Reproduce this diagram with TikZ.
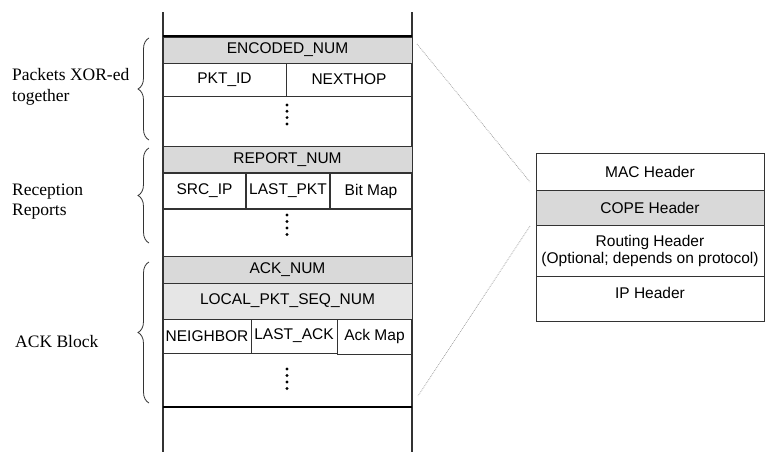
\documentclass[tikz,border=0pt]{standalone}
\usepackage{fontspec}
\setmainfont{Liberation Serif}
\newfontfamily\sansf{Liberation Sans}
\usetikzlibrary{decorations.pathreplacing}
\definecolor{hdrgray}{HTML}{D9D9D9}
\definecolor{lightgray2}{HTML}{E6E6E6}
\definecolor{linecol}{HTML}{333333}
\begin{document}
\begin{tikzpicture}[x=1pt,y=-1pt,
  cell/.style={draw=linecol, line width=1pt, inner sep=0pt, font=\sansf\fontsize{15.5}{18}\selectfont},
  hdr/.style={cell, fill=hdrgray},
  lbl/.style={inner sep=0pt, anchor=west, align=left, font=\fontsize{17.5}{20.5}\selectfont},
  bracestyle/.style={decorate, decoration={brace, amplitude=11pt}, line width=0.8pt, draw=linecol},
  zoomline/.style={draw=gray!70, line width=0.8pt, densely dotted}
]
\useasboundingbox (0,0) rectangle (779,458);
% vertical lines of the column
\coordinate (lt) at (163,12);
\coordinate (lb) at (163,452);
\coordinate (rt) at (412,12);
\coordinate (rb) at (412,452);
\draw[linecol, line width=1.1pt] (lt) -- (lb);
\draw[linecol, line width=1.1pt] (rt) -- (rb);
% thick lines
\coordinate (t1) at (163,36.5);
\coordinate (t2) at (412,36.5);
\coordinate (b1) at (163,407);
\coordinate (b2) at (412,407);
\draw[black, line width=2.4pt] (t1) -- (t2);
\draw[black, line width=2.4pt] (b1) -- (b2);

% block 1
\node[hdr, minimum width=249pt, minimum height=26pt] (enc) at (287.5,50) {ENCODED\_NUM};
\node[cell, minimum width=123pt, minimum height=33pt] (pktid) at (224.5,79.5) {PKT\_ID};
\node[cell, minimum width=126pt, minimum height=33pt] (nexthop) at (349,79.5) {NEXTHOP};
\coordinate (s1a) at (163,146);
\coordinate (s1b) at (412,146);
\draw[linecol, line width=1pt] (s1a) -- (s1b);
\foreach \yy in {105,111.3,117.6,124} \fill (287,\yy) circle (1.6pt);

% block 2
\node[hdr, minimum width=249pt, minimum height=27pt] (rep) at (287.5,159.5) {REPORT\_NUM};
\node[cell, line width=1.3pt, minimum width=83pt, minimum height=36pt] (srcip) at (204.5,191) {SRC\_IP};
\node[cell, line width=1.3pt, minimum width=84pt, minimum height=36pt] (lastpkt) at (288,191) {LAST\_PKT};
\node[cell, line width=1.3pt, minimum width=82pt, minimum height=36pt] (bitmap) at (371,191) {Bit Map};
\foreach \yy in {215,221.5,228,234.5} \fill (287,\yy) circle (1.6pt);
\coordinate (s2a) at (163,256);
\coordinate (s2b) at (412,256);
\draw[linecol, line width=1pt] (s2a) -- (s2b);

% block 3
\node[hdr, minimum width=249pt, minimum height=27pt] (ack) at (287.5,269.5) {ACK\_NUM};
\node[cell, fill=lightgray2, minimum width=249pt, minimum height=36pt] (lpsn) at (287.5,301) {LOCAL\_PKT\_SEQ\_NUM};
\node[cell, minimum width=88pt, minimum height=34pt] (neigh) at (207,336) {NEIGHBOR};
\node[cell, minimum width=86pt, minimum height=34pt] (lastack) at (294,336) {LAST\_ACK};
\node[cell, minimum width=75pt, minimum height=35pt] (ackmap) at (374.5,336.5) {Ack Map};
\foreach \yy in {369,375.5,382,388.5} \fill (287,\yy) circle (1.6pt);

% braces
\coordinate (br1b) at (149,140);
\coordinate (br1t) at (149,38);
\coordinate (br2b) at (149,243);
\coordinate (br2t) at (149,148);
\coordinate (br3b) at (149,403);
\coordinate (br3t) at (149,262);
\draw[bracestyle] (br1b) -- (br1t);
\draw[bracestyle] (br2b) -- (br2t);
\draw[bracestyle] (br3b) -- (br3t);

% labels
\node[lbl] (l1) at (12,87) {Packets XOR-ed\\together};
\node[lbl] (l2) at (12,201.5) {Reception\\Reports};
\node[lbl] (l3) at (15,342) {ACK Block};

% right box
\node[cell, minimum width=228pt, minimum height=37pt] (mac) at (650,171.5) {MAC Header};
\node[hdr, minimum width=228pt, minimum height=35pt] (cope) at (650,207.5) {COPE Header};
\node[cell, minimum width=228pt, minimum height=51pt, align=center] (route) at (650,250.5) {Routing Header\\[-1pt](Optional; depends on protocol)};
\node[cell, minimum width=228pt, minimum height=45pt, text depth=0pt] (ip) at (650,298.5) {};
\node[inner sep=0pt, font=\sansf\fontsize{15.5}{18}\selectfont] (iptxt) at (650,293) {IP Header};

% zoom lines
\coordinate (z1a) at (417,44);
\coordinate (z1b) at (530,182);
\coordinate (z2a) at (530,226);
\coordinate (z2b) at (418,396);
\draw[zoomline] (z1a) -- (z1b);
\draw[zoomline] (z2a) -- (z2b);
\end{tikzpicture}
\end{document}
